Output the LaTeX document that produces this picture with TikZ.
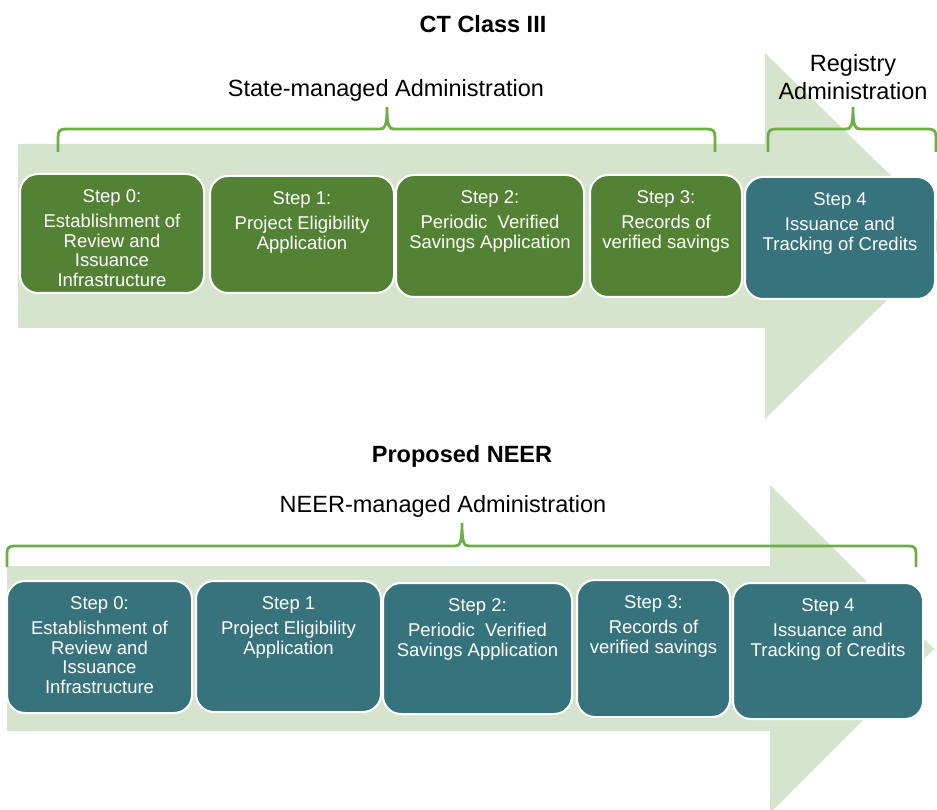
\documentclass[tikz,border=0pt]{standalone}
\usepackage{fontspec}
\setmainfont{Liberation Sans}
\usetikzlibrary{fit}
\definecolor{arrowgreen}{HTML}{D6E4CD}
\definecolor{boxgreen}{HTML}{548235}
\definecolor{boxteal}{HTML}{37737D}
\definecolor{bracegreen}{HTML}{70AD47}
\begin{document}
\begin{tikzpicture}[x=1pt,y=-1pt,
  stepbox/.style={draw=white, line width=2pt, rounded corners=18pt, inner sep=0pt},
  greenbox/.style={stepbox, fill=boxgreen},
  tealbox/.style={stepbox, fill=boxteal},
  steptext/.style={text=white, align=center, anchor=north, inner sep=0pt,
    font=\fontsize{18.5}{19.5}\selectfont},
  bracket/.style={draw=bracegreen, line width=2.8pt},
  heading/.style={anchor=base, inner sep=0pt, font=\fontsize{23.5}{28}\selectfont\bfseries},
  caption/.style={anchor=base, inner sep=0pt, font=\fontsize{23.5}{28}\selectfont},
]
\useasboundingbox (0,0) rectangle (937,810);

\begin{scope}
\clip (0,0) rectangle (937,810);
% process arrows
\fill[arrowgreen] (18,144) -- (765,144) -- (765,53) -- (953,236) -- (765,419)
  -- (765,328) -- (18,328) -- cycle;
\fill[arrowgreen] (7,566) -- (770,566) -- (770,485) -- (934,649) -- (770,813)
  -- (770,731) -- (7,731) -- cycle;
\end{scope}

% titles and group labels
\node[heading] (ct) at (483,33) {CT Class III};
\node[caption] (state) at (386,97) {State-managed Administration};
\node[align=center, inner sep=0pt, font=\fontsize{23.5}{28}\selectfont] (reg) at (853,77)
  {Registry\\Administration};
\node[heading] (pn) at (462,462) {Proposed NEER};
\node[caption] (neer) at (443,512) {NEER-managed Administration};

% braces
\coordinate (sa1) at (58,152);  \coordinate (sa2) at (715,152);
\coordinate (ra1) at (768,152); \coordinate (ra2) at (936,152);
\coordinate (na1) at (7,567);   \coordinate (na2) at (916,567);

\draw[bracket] (sa1) -- (58,137) .. controls (58,131) and (60,129) .. (66,129)
  -- (380,129) .. controls (385,129) and (387,126) .. (387,107)
  .. controls (387,126) and (389,129) .. (394,129)
  -- (707,129) .. controls (713,129) and (715,131) .. (715,137) -- (sa2);
\draw[bracket] (ra1) -- (768,137) .. controls (768,131) and (770,129) .. (776,129)
  -- (846,129) .. controls (851,129) and (853,126) .. (853,107)
  .. controls (853,126) and (855,129) .. (860,129)
  -- (928,129) .. controls (934,129) and (936,131) .. (936,137) -- (ra2);
\draw[bracket] (na1) -- (7,553) .. controls (7,548) and (9,546) .. (14,546)
  -- (455,546) .. controls (460,546) and (462,543) .. (462,523)
  .. controls (462,543) and (464,546) .. (469,546)
  -- (909,546) .. controls (914,546) and (916,548) .. (916,553) -- (na2);

% CT Class III steps
\node[greenbox, fit={(20,174) (204,293)}] (a0) {};
\node[greenbox, fit={(210,176) (394,293)}] (a1) {};
\node[greenbox, fit={(396,175) (584,297)}] (a2) {};
\node[greenbox, fit={(590,175) (742,297)}] (a3) {};
\node[tealbox,  fit={(745,177) (935,299)}] (a4) {};

\node[steptext] (ta0) at ([yshift=-16pt]a0.north)
  {Step 0:\\[6pt]Establishment of\\Review and\\Issuance\\Infrastructure};
\node[steptext] (ta1) at ([yshift=-16pt]a1.north)
  {Step 1:\\[6pt]Project Eligibility\\Application};
\node[steptext] (ta2) at ([yshift=-16pt]a2.north)
  {Step 2:\\[6pt]Periodic~~Verified\\Savings Application};
\node[steptext] (ta3) at ([yshift=-16pt]a3.north)
  {Step 3:\\[6pt]Records of\\verified savings};
\node[steptext] (ta4) at ([yshift=-16pt]a4.north)
  {Step 4\\[6pt]Issuance and\\Tracking of Credits};

% Proposed NEER steps
\node[tealbox, fit={(7,581) (192,713)}] (b0) {};
\node[tealbox, fit={(196,581) (381,712)}] (b1) {};
\node[tealbox, fit={(383,583) (572,714)}] (b2) {};
\node[tealbox, fit={(577,580) (730,717)}] (b3) {};
\node[tealbox, fit={(733,583) (923,719)}] (b4) {};

\node[steptext] (tb0) at ([yshift=-16pt]b0.north)
  {Step 0:\\[6pt]Establishment of\\Review and\\Issuance\\Infrastructure};
\node[steptext] (tb1) at ([yshift=-16pt]b1.north)
  {Step 1\\[6pt]Project Eligibility\\Application};
\node[steptext] (tb2) at ([yshift=-16pt]b2.north)
  {Step 2:\\[6pt]Periodic~~Verified\\Savings Application};
\node[steptext] (tb3) at ([yshift=-16pt]b3.north)
  {Step 3:\\[6pt]Records of\\verified savings};
\node[steptext] (tb4) at ([yshift=-16pt]b4.north)
  {Step 4\\[6pt]Issuance and\\Tracking of Credits};
\end{tikzpicture}
\end{document}
